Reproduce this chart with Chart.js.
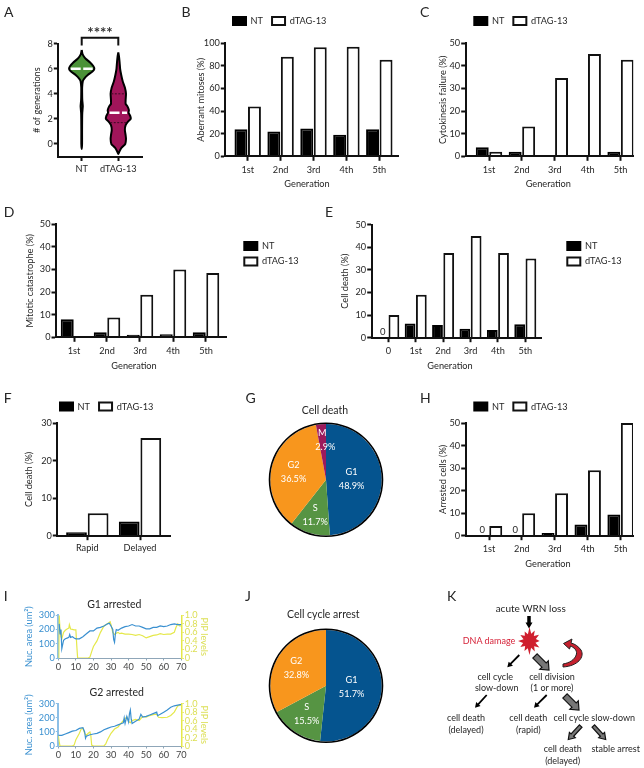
<!DOCTYPE html>
<html><head><meta charset="utf-8">
<style>
html,body{margin:0;padding:0;background:#fff;overflow:hidden}
#fig{position:relative;width:644px;height:768px;overflow:hidden}
canvas{position:absolute;pointer-events:none}
svg{position:absolute;left:0;top:0}
svg text{font-family:Lato,sans-serif;fill:#262626;text-anchor:middle;dominant-baseline:central}
</style>
<script src="https://cdn.jsdelivr.net/npm/chart.js@4/dist/chart.umd.min.js"></script>
</head><body><div id="fig"></div>
<script>
// ---------- data ----------
const gen5 = ['1st','2nd','3rd','4th','5th'];
const gen6 = ['0','1st','2nd','3rd','4th','5th'];
const timing = ['Rapid','Delayed'];
const seriesNames = ['NT','dTAG-13'];

const aberrantNT = [24,22,24.7,19,24];
const aberrantDT = [44,88,96.5,97,85.5];
const cytoNT = [4,2,0,0.5,2];
const cytoDT = [2,13.2,34.7,45.3,42.7];
const catastropheNT = [8,2.2,1.1,1.4,2.2];
const catastropheDT = [0,8.8,18.8,30,28.5];
const deathNT = [0,6.3,5.6,4,3.4,5.9];
const deathDT = [10,19,37.5,45,37.5,35];
const timingNT = [0.9,3.8];
const timingDT = [6,26];
const arrestNT = [0,0,1.2,5,9.4];
const arrestDT = [4.3,10,18.8,29,50];

const phaseDeath = ['G1','S','G2','M'];
const phaseDeathPct = [48.9,11.7,36.5,2.9];
const phaseArrest = ['G1','S','G2'];
const phaseArrestPct = [51.7,15.5,32.8];

const violinGroups = ['NT','dTAG-13'];
const ntLevel = [7.5,7.2,7.0,6.8,6.5,6.2,6.0,5.8,5.5,5.2,5.0,4.5,4.0,3.5,3.0,2.5,2.0,1.0,0,-0.4];
const ntWidth = [0,.02,.055,.11,.23,.32,.345,.3,.165,.065,.03,.012,.012,.016,.03,.016,.012,.01,.01,0];
const dtLevel = [7.3,7.0,6.5,6.0,5.5,5.0,4.5,4.0,3.5,3.2,3.0,2.7,2.5,2.2,2.0,1.8,1.5,1.1,0.7,0.4,0,-0.3,-0.6,-0.8];
const dtWidth = [0,.018,.036,.05,.08,.12,.18,.21,.2,.2,.25,.29,.28,.33,.34,.27,.2,.18,.2,.21,.19,.09,.03,0];

const g1TimeArea = [0.5,1,1.5,2,3,4,5,6,6.5,7,8,9,10,12,14,16,18,20,22,24,26,28,29,30,31,31.5,32,32.5,33,34,36,38,40,42,44,46,48,50,52,54,56,58,60,62,64,66,68,70];
const g1Area = [240,170,200,65,125,135,140,145,165,145,150,140,135,135,150,170,190,190,210,215,225,240,245,225,200,130,110,170,200,195,210,220,225,235,225,225,215,205,205,215,215,225,220,225,235,240,235,235];
const g1TimePip = [0.3,0.5,1,1.5,2,3,4,5,6,6.3,7,8,9,10,10.5,11,14,17,18,19,20,22,24,26,28,29.5,30,31,32,33,34,35,36,38,40,42,44,46,48,50,52,54,56,58,60,62,64,66,67,68,69,70];
const g1Pip = [0,1,.65,.5,.45,.6,.65,.68,.7,.78,.68,.67,.66,.66,.3,0,0,0,.02,.15,.27,.4,.6,.75,.8,.85,.78,.6,.55,.58,.6,.57,.58,.56,.56,.55,.53,.55,.52,.47,.5,.53,.54,.57,.55,.56,.56,.6,.72,.8,.75,.75];
const g2TimeArea = [0,2,4,6,8,10,12,14,15,15.5,16,18,20,22,24,26,28,30,32,34,36,37,37.5,38,39,40,40.5,41,41.5,42,44,46,47,48,50,52,54,56,56.5,58,60,62,64,66,68,70];
const g2Area = [75,75,85,95,105,110,125,130,100,55,70,80,85,90,100,115,125,135,140,150,160,165,200,160,210,170,230,255,190,160,175,190,225,205,210,220,230,240,215,225,240,255,275,285,290,295];
const g2TimePip = [0,.5,1,4,8,9,10,12,13,14,15,16,17,18,18.5,19,20,24,26,27,28,30,32,34,36,38,39,40,41,42,44,46,47,48,50,52,54,56,57,59,62,64,66,68,70];
const g2Pip = [.25,.1,0,0,0,.02,.15,.3,.4,.42,.3,.25,.3,.33,.25,.02,0,0,0,.05,.15,.3,.4,.45,.55,.65,.68,.58,.55,.6,.63,.6,.65,.7,.68,.72,.74,.75,.68,.67,.68,.72,.8,.95,.97];

const sigMark = '****';
const bracketX = [1,1,2,2];
const bracketY = [7.85,8.48,8.48,7.85];

// ---------- helpers ----------
const FONT = 'Lato, sans-serif', INK = '#262626', FS = 9.2;
Chart.defaults.font.family = FONT;
Chart.defaults.font.size = FS;
Chart.defaults.color = INK;
Chart.defaults.animation = false;
const fig = document.getElementById('fig');
const LH = FS*1.2;
const tf = {size:FS,family:FONT};

function mount(cx, cy, cw, ch){
  const c = document.createElement('canvas');
  c.width = cw; c.height = ch;
  c.style.left = cx+'px'; c.style.top = cy+'px';
  c.style.width = cw+'px'; c.style.height = ch+'px';
  fig.appendChild(c);
  return c;
}
// moves legend / title / x-axis title to reference positions
function placer(o){
  return {
    id:'placer',
    beforeLayout(chart){
      if (chart.legend && o.legendRow) chart.legend.isHorizontal = () => true;
    },
    afterLayout(chart){
      const lg = chart.legend;
      if (lg && o.legend){
        const p = lg.options.labels.padding;
        lg.left = o.legend.x - o.cx - p;
        lg.right = lg.left + 130;
        lg.top = o.legend.cy - o.cy - 4.5 - p;
        lg.bottom = lg.top + 50;
        lg.width = 130; lg.height = 50;
      }
      if (chart.titleBlock && o.titleX!==undefined){
        const l = o.titleX - o.cx - 60;
        chart.titleBlock.left = l; chart.titleBlock.right = l+120;
      }
      if (o.xTitleDx){
        const x = chart.scales.x, draw = x.drawTitle;
        if (!x._moved){
          x._moved = true;
          x.drawTitle = function(){
            const l=this.left, r=this.right;
            this.left=l+o.xTitleDx; this.right=r+o.xTitleDx;
            draw.call(this);
            this.left=l; this.right=r;
          };
        }
      }
    },
    afterDatasetsDraw(chart){
      if (o.zeroLabels){
        const meta = chart.getDatasetMeta(0), ctx = chart.ctx;
        ctx.save();
        ctx.font = '9.5px '+FONT; ctx.fillStyle = INK;
        ctx.textAlign='center'; ctx.textBaseline='middle';
        chart.data.datasets[0].data.forEach((d,i)=>{
          if (d.y===0) ctx.fillText('0', meta.data[i].x, chart.scales.y.getPixelForValue(0)-6);
        });
        ctx.restore();
      }
    }
  };
}
function axisStyle(extra){
  return Object.assign({
    border:{display:true,color:'#111',width:2,z:1},
    grid:{display:true,offset:false,drawOnChartArea:false,drawTicks:true,color:'#111',tickColor:'#111',tickWidth:2,tickLength:4.5}
  },extra);
}

function barPanel(p){
  const cx = Math.floor(p.yTitleX-LH/2);
  const cy = Math.floor(Math.min(p.T-10, p.legend && p.legend.row ? p.legend.cy-15 : p.T-10));
  const bottom = Math.ceil((p.xTitleY||p.tickY+4)+LH/2);
  const right = p.canvasRight || Math.ceil(p.R+12);
  const xMin = (p.L-p.c0)/p.dx, xMax = (p.R-p.c0)/p.dx;
  const toXY = v => v.map((y,i)=>({x:i,y}));
  const c = mount(cx,cy,right-cx,bottom-cy);
  const o = {cx,cy,zeroLabels:p.zero,legend:p.legend,legendRow:p.legend&&p.legend.row,
    xTitleDx:p.xTitleX?p.xTitleX-(p.L+p.R)/2:0};
  new Chart(c,{
    type:'bar',
    data:{labels:p.cats,datasets:[
      {label:seriesNames[0],data:toXY(p.nt),backgroundColor:'#000',borderColor:'#000',borderWidth:2,categoryPercentage:.82,barPercentage:.96},
      {label:seriesNames[1],data:toXY(p.dt),backgroundColor:'#fff',borderColor:'#111',borderWidth:2,categoryPercentage:.82,barPercentage:.96}
    ]},
    options:{responsive:false,maintainAspectRatio:false,
      layout:{padding:{top:p.T-cy,right:right-p.R,left:0,bottom:0}},
      plugins:{tooltip:{enabled:false},
        legend:{display:!!p.legend,position:'chartArea',align:'start',fullSize:false,
          labels:{boxWidth:13,boxHeight:8,padding:p.legend&&p.legend.pad||9,color:INK,font:tf}}},
      scales:{
        x:axisStyle({type:'linear',offset:false,min:xMin,max:xMax,
          afterBuildTicks:s=>{s.ticks=p.cats.map((_,i)=>({value:i}));},
          afterFit:s=>{s.height=bottom-p.B;},
          ticks:{autoSkip:false,maxRotation:0,padding:p.xPad||3.5,callback:v=>p.cats[v],font:tf,color:INK},
          title:p.xTitleY?{display:true,text:'Generation',color:INK,font:tf,padding:{top:0,bottom:bottom-p.xTitleY-LH/2}}:{display:false}
        }),
        y:axisStyle({type:'linear',min:0,max:p.yMax,afterFit:s=>{s.width=p.L-cx;},
          ticks:{stepSize:p.yStep,padding:1,font:tf,color:INK},
          title:{display:true,text:p.yLabel,color:INK,font:tf,padding:{top:p.yTitleX-LH/2-cx,bottom:0}}
        })
      }
    },
    plugins:[placer(o)]
  });
}

function violinOutline(center,levels,widths){
  const pts = levels.map((y,i)=>({x:center+widths[i],y}));
  for(let i=levels.length-2;i>=0;i--) pts.push({x:center-widths[i],y:levels[i]});
  return pts;
}
function violinPanel(){
  const L=58.3,R=142.7,T=43.7,B=156.5,cx=30,cy=24,right=150,bottom=178;
  const unit=36.6, xMin=1-(81.7-L)/unit, xMax=2+(R-118.3)/unit;
  const line=(x1,x2,y,color,w,dash)=>({data:[{x:x1,y},{x:x2,y}],showLine:true,borderColor:color,borderWidth:w,borderDash:dash,pointRadius:0,order:1});
  const c = mount(cx,cy,right-cx,bottom-cy);
  new Chart(c,{
    type:'scatter',
    data:{datasets:[
      {data:violinOutline(1,ntLevel,ntWidth),showLine:true,fill:'shape',backgroundColor:'#4b9238',borderColor:'#000',borderWidth:2,pointRadius:0,tension:.15,order:2},
      {data:violinOutline(2,dtLevel,dtWidth),showLine:true,fill:'shape',backgroundColor:'#a1155a',borderColor:'#000',borderWidth:2,pointRadius:0,tension:.15,order:2},
      line(1-.3,1+.3,6,'#fff',2.5,[10,2.5]),
      line(2-.24,2+.24,2.5,'#fff',2.5,[10,2.5]),
      line(2-.19,2+.19,4,'#3a0a22',1,[2,1.5]),
      line(2-.22,2+.22,1.7,'#3a0a22',1,[2,1.5]),
      {data:bracketX.map((x,i)=>({x,y:bracketY[i]})),showLine:true,borderColor:'#111',borderWidth:2,pointRadius:0,clip:false}
    ]},
    options:{responsive:false,maintainAspectRatio:false,
      layout:{padding:{top:T-cy,right:right-R,left:0,bottom:0}},
      plugins:{legend:{display:false},tooltip:{enabled:false}},
      scales:{
        x:axisStyle({type:'linear',min:xMin,max:xMax,
          afterBuildTicks:s=>{s.ticks=[{value:1},{value:2}];},
          afterFit:s=>{s.height=bottom-B;},
          ticks:{autoSkip:false,maxRotation:0,padding:3,callback:v=>violinGroups[v-1],font:tf,color:INK}
        }),
        y:axisStyle({type:'linear',min:-1,max:8,
          afterBuildTicks:s=>{s.ticks=[0,2,4,6,8].map(value=>({value}));},
          afterFit:s=>{s.width=L-cx;},
          ticks:{padding:1,font:tf,color:INK},
          title:{display:true,text:'# of generations',color:INK,font:tf,padding:{top:1.2,bottom:0}}
        })
      }
    },
    plugins:[{id:'sig',afterDatasetsDraw(ch){
      const ctx=ch.ctx; ctx.save();
      ctx.font='bold 15px '+FONT; ctx.fillStyle='#333'; ctx.textAlign='center'; ctx.textBaseline='middle';
      ctx.fillText(sigMark,ch.scales.x.getPixelForValue(1.5),ch.scales.y.getPixelForValue(8.85));
      ctx.restore();
    }}]
  });
}

function piePanel(p){
  const cx=p.cx0-70, cy=p.cy0-p.titleGap, h=p.titleGap+p.size, R=p.size/2;
  const titleTop = p.titleY-cy-7, titleBottom = p.titleGap-(titleTop+13.2);
  const c = mount(cx,cy,140,h);
  new Chart(c,{
    type:'doughnut',
    data:{labels:p.names,datasets:[
      {data:[1],backgroundColor:['#000'],borderWidth:0,weight:1.6},
      {data:p.values,backgroundColor:p.colors,borderWidth:0,weight:R-1.6}
    ]},
    options:{responsive:false,maintainAspectRatio:false,cutout:0,layout:{padding:0},
      plugins:{legend:{display:false},tooltip:{enabled:false},
        title:{display:true,text:p.title,color:INK,font:{size:10.5,weight:'normal',family:FONT,lineHeight:1.2},
          padding:{top:titleTop,bottom:titleBottom}}}
    },
    plugins:[placer({cx,cy,titleX:p.titleX}),{id:'sliceText',afterDatasetsDraw(ch){
      const ctx=ch.ctx, arcs=ch.getDatasetMeta(1).data;
      ctx.save(); ctx.font=FS+'px '+FONT; ctx.fillStyle='#fff'; ctx.textAlign='center'; ctx.textBaseline='middle';
      arcs.forEach((a,i)=>{
        const mid=(a.startAngle+a.endAngle)/2, r=a.outerRadius*p.textR[i];
        const x=a.x+Math.cos(mid)*r, y=a.y+Math.sin(mid)*r;
        ctx.fillText(p.names[i],x,y-7);
        ctx.fillText(p.values[i].toFixed(1)+'%',x+(p.names[i]==='M'?3:0),y+7);
      });
      ctx.restore();
    }}]
  });
}

function timePanel(p){
  const cx=Math.floor(p.leftTitleX-LH/2), right=Math.ceil(p.rightTitleX+LH/2), cy=p.titleY-9, bottom=p.B+16;
  const c = mount(cx,cy,right-cx,bottom-cy);
  const tTop=2, tBottom=p.T-cy-tTop-12.6;
  const BLUE='#3a90d0', BLUEAX='#8cbfe6', YEL='#e5e84a', YTXT='#dcdf55';
  new Chart(c,{
    type:'scatter',
    data:{datasets:[
      {data:p.tArea.map((x,i)=>({x,y:p.area[i]})),yAxisID:'y',showLine:true,borderColor:BLUE,borderWidth:1.2,pointRadius:0},
      {data:p.tPip.map((x,i)=>({x,y:p.pip[i]})),yAxisID:'y2',showLine:true,borderColor:YEL,borderWidth:1.2,pointRadius:0}
    ]},
    options:{responsive:false,maintainAspectRatio:false,layout:{padding:0},
      plugins:{legend:{display:false},tooltip:{enabled:false},
        title:{display:true,text:p.title,color:INK,font:{size:10.5,weight:'normal',family:FONT,lineHeight:1.2},padding:{top:tTop,bottom:tBottom}}},
      scales:{
        x:{type:'linear',min:0,max:70,afterFit:s=>{s.height=bottom-p.B;},
          border:{display:true,color:'#8fa6b8',width:1},
          grid:{display:true,drawOnChartArea:false,color:'#8fa6b8',tickColor:'#8fa6b8',tickLength:2.5},
          ticks:{stepSize:10,autoSkip:false,maxRotation:0,padding:1,color:'#444',font:tf}},
        y:{type:'linear',position:'left',min:0,max:300,afterFit:s=>{s.width=p.L-cx;},
          border:{display:true,color:BLUEAX,width:2},
          grid:{display:true,drawOnChartArea:false,color:BLUEAX,tickColor:BLUEAX,tickLength:2.5},
          ticks:{stepSize:100,autoSkip:false,padding:1,color:BLUE,font:tf},
          title:{display:true,text:'Nuc. area (um²)',color:BLUE,font:tf,padding:{top:p.leftTitleX-LH/2-cx,bottom:0}}},
        y2:{type:'linear',position:'right',min:0,max:1,afterFit:s=>{s.width=right-p.R;},
          border:{display:true,color:YEL,width:1.5},
          grid:{display:true,drawOnChartArea:false,color:YEL,tickColor:YEL,tickLength:2.5},
          ticks:{stepSize:.2,autoSkip:false,padding:1,color:YTXT,font:tf,callback:v=>v===0?'0':v.toFixed(1)},
          title:{display:true,text:'PIP levels',color:YTXT,font:tf,padding:{top:right-p.rightTitleX-LH/2,bottom:0}}}
      }
    },
    plugins:[placer({cx,cy,titleX:p.titleX})]
  });
}

// ---------- panels ----------
violinPanel();
barPanel({L:225.3,R:398,T:43.3,B:156.3,c0:247.7,dx:32.9,cats:gen5,nt:aberrantNT,dt:aberrantDT,yMax:100,yStep:20,
  yLabel:'Aberrant mitoses (%)',yTitleX:200.7,xTitleY:184,xTitleX:307,legend:{row:true,x:233,cy:21}});
barPanel({L:465.7,R:633.3,T:43.3,B:156.3,c0:489,dx:32.9,cats:gen5,nt:cytoNT,dt:cytoDT,yMax:50,yStep:10,
  yLabel:'Cytokinesis failure (%)',yTitleX:442.7,xTitleY:184,xTitleX:548.3,legend:{row:true,x:474.3,cy:21}});
barPanel({L:56,R:226,T:224.3,B:337.3,c0:74,dx:33,cats:gen5,nt:catastropheNT,dt:catastropheDT,yMax:50,yStep:10,
  yLabel:'Mitotic catastrophe (%)',yTitleX:30,xTitleY:365.7,xTitleX:134,canvasRight:312,legend:{x:244.3,cy:245.8,pad:6.4}});
barPanel({L:371.7,R:541.7,T:224.7,B:337.7,c0:388.3,dx:27.4,cats:gen6,nt:deathNT,dt:deathDT,yMax:50,yStep:10,zero:true,
  yLabel:'Cell death (%)',yTitleX:345.3,xTitleY:365.7,xTitleX:450,canvasRight:630,legend:{x:567.3,cy:245.8,pad:6.4}});
barPanel({L:57.3,R:170,T:423,B:535.7,c0:87.3,dx:52.7,cats:timing,nt:timingNT,dt:timingDT,yMax:30,yStep:10,
  yLabel:'Cell death (%)',yTitleX:29.3,tickY:549,xPad:2.5,legend:{row:true,x:60,cy:406.5}});
barPanel({L:465.7,R:633,T:423,B:535.7,c0:489,dx:32.9,cats:gen5,nt:arrestNT,dt:arrestDT,yMax:50,yStep:10,zero:true,
  yLabel:'Arrested cells (%)',yTitleX:442.7,xTitleY:564,xTitleX:548,legend:{row:true,x:474.3,cy:406.5}});

const pieColors=['#05548f','#569443','#f8961d','#9b1a5c'];
piePanel({cx0:326,cy0:423,titleGap:18,titleY:411.7,titleX:325,size:114,title:'Cell death',names:phaseDeath,values:phaseDeathPct,colors:pieColors,textR:[.46,.66,.6,.72]});
piePanel({cx0:326,cy0:629,titleGap:21,titleY:615,titleX:323.3,size:114,title:'Cell cycle arrest',names:phaseArrest,values:phaseArrestPct,colors:pieColors,textR:[.46,.62,.62]});

timePanel({L:58.3,R:181.3,T:615.3,B:658.3,leftTitleX:29.3,rightTitleX:204,titleY:605,titleX:114.3,title:'G1 arrested',tArea:g1TimeArea,area:g1Area,tPip:g1TimePip,pip:g1Pip});
timePanel({L:58.3,R:181.3,T:703.7,B:746.3,leftTitleX:29.3,rightTitleX:204,titleY:693,titleX:116.7,title:'G2 arrested',tArea:g2TimeArea,area:g2Area,tPip:g2TimePip,pip:g2Pip});

// ---------- panel letters and schematic K ----------
const NS='http://www.w3.org/2000/svg';
const svg=document.createElementNS(NS,'svg');
svg.setAttribute('width',644);svg.setAttribute('height',768);
fig.appendChild(svg);
function text(t,x,y,size,color){
  const e=document.createElementNS(NS,'text');
  e.textContent=t;e.setAttribute('x',x);e.setAttribute('y',y);e.setAttribute('font-size',size);
  if(color)e.style.fill=color;svg.appendChild(e);
}
function shape(tag,attrs){
  const e=document.createElementNS(NS,tag);
  for(const k in attrs)e.setAttribute(k,attrs[k]);svg.appendChild(e);
}
function arrow(x1,y1,x2,y2,sw,hw,hl,fill,stroke){
  const d=Math.hypot(x2-x1,y2-y1),ux=(x2-x1)/d,uy=(y2-y1)/d,nx=-uy,ny=ux;
  const bx=x2-ux*hl,by=y2-uy*hl;
  const P=[[x1+nx*sw/2,y1+ny*sw/2],[bx+nx*sw/2,by+ny*sw/2],[bx+nx*hw/2,by+ny*hw/2],[x2,y2],
           [bx-nx*hw/2,by-ny*hw/2],[bx-nx*sw/2,by-ny*sw/2],[x1-nx*sw/2,y1-ny*sw/2]];
  shape('polygon',{points:P.map(p=>p.join(',')).join(' '),fill,stroke:stroke||'none','stroke-width':stroke?1.2:0});
}
[['A',8.7,11],['B',186,11],['C',424.7,11],['D',9,211],['E',329,211],['F',7.7,397],['G',250.7,397],['H',425.3,397],['I',5.7,595],['J',248,595],['K',451.7,595]]
  .forEach(l=>text(l[0],l[1],l[2],14));

text('acute WRN loss',530.7,608.3,10);
text('DNA damage',489,640,9,'#d6243a');
[['cell cycle',495.3,676],['slow-down',496.7,687.3],['cell division',552,676],['(1 or more)',552,687.3],
 ['cell death',466,717.7],['(delayed)',466,729],['cell death',528.3,717.7],['(rapid)',528.3,729],
 ['cell cycle slow-down',594.3,717.7],['cell death',562.7,748.7],['(delayed)',562.7,760],['stable arrest',615.7,748.7]]
  .forEach(t=>text(t[0],t[1],t[2],9));

arrow(529,616,529,628.5,3.5,7,6,'#000');
arrow(519.3,655,507.3,667.3,1.8,6,5,'#000');
arrow(486.7,695,475,707.7,1.8,6,5,'#000');
arrow(546.7,695,534,707.7,1.8,6,5,'#000');
arrow(535,656,549,670,6,12,7,'#777','#111');
arrow(565,696,579,710,6,12,7,'#777','#111');
arrow(580.7,726,568.3,739.5,3.5,8,6,'#777','#111');
arrow(593.3,726,605.7,739.5,3.5,8,6,'#777','#111');
(function(){
  const cxs=529.5,cys=641,rad=[14,7.5,12,7,12.5,7.5,11.5,7,13,7.5,12,7,14,7.5,11.5,7,12,7.5,13,7,12,7.5,11,7];
  const pts=rad.map((r,i)=>{const a=i/rad.length*Math.PI*2-Math.PI/2;return (cxs+Math.cos(a)*r*.88)+','+(cys+Math.sin(a)*r);});
  shape('polygon',{points:pts.join(' '),fill:'#cf1f2e'});
})();
shape('path',{d:'M563,667 C578,666 585,657 581,650 C578,646 575,644 571,643 L572,639 L563.5,643.5 L569.5,649 L570.5,646 C574,647.5 577,650 576.5,654 C575,660 569,663 563,664 Z',fill:'#c5202e',stroke:'#222','stroke-width':1});
</script></body></html>
